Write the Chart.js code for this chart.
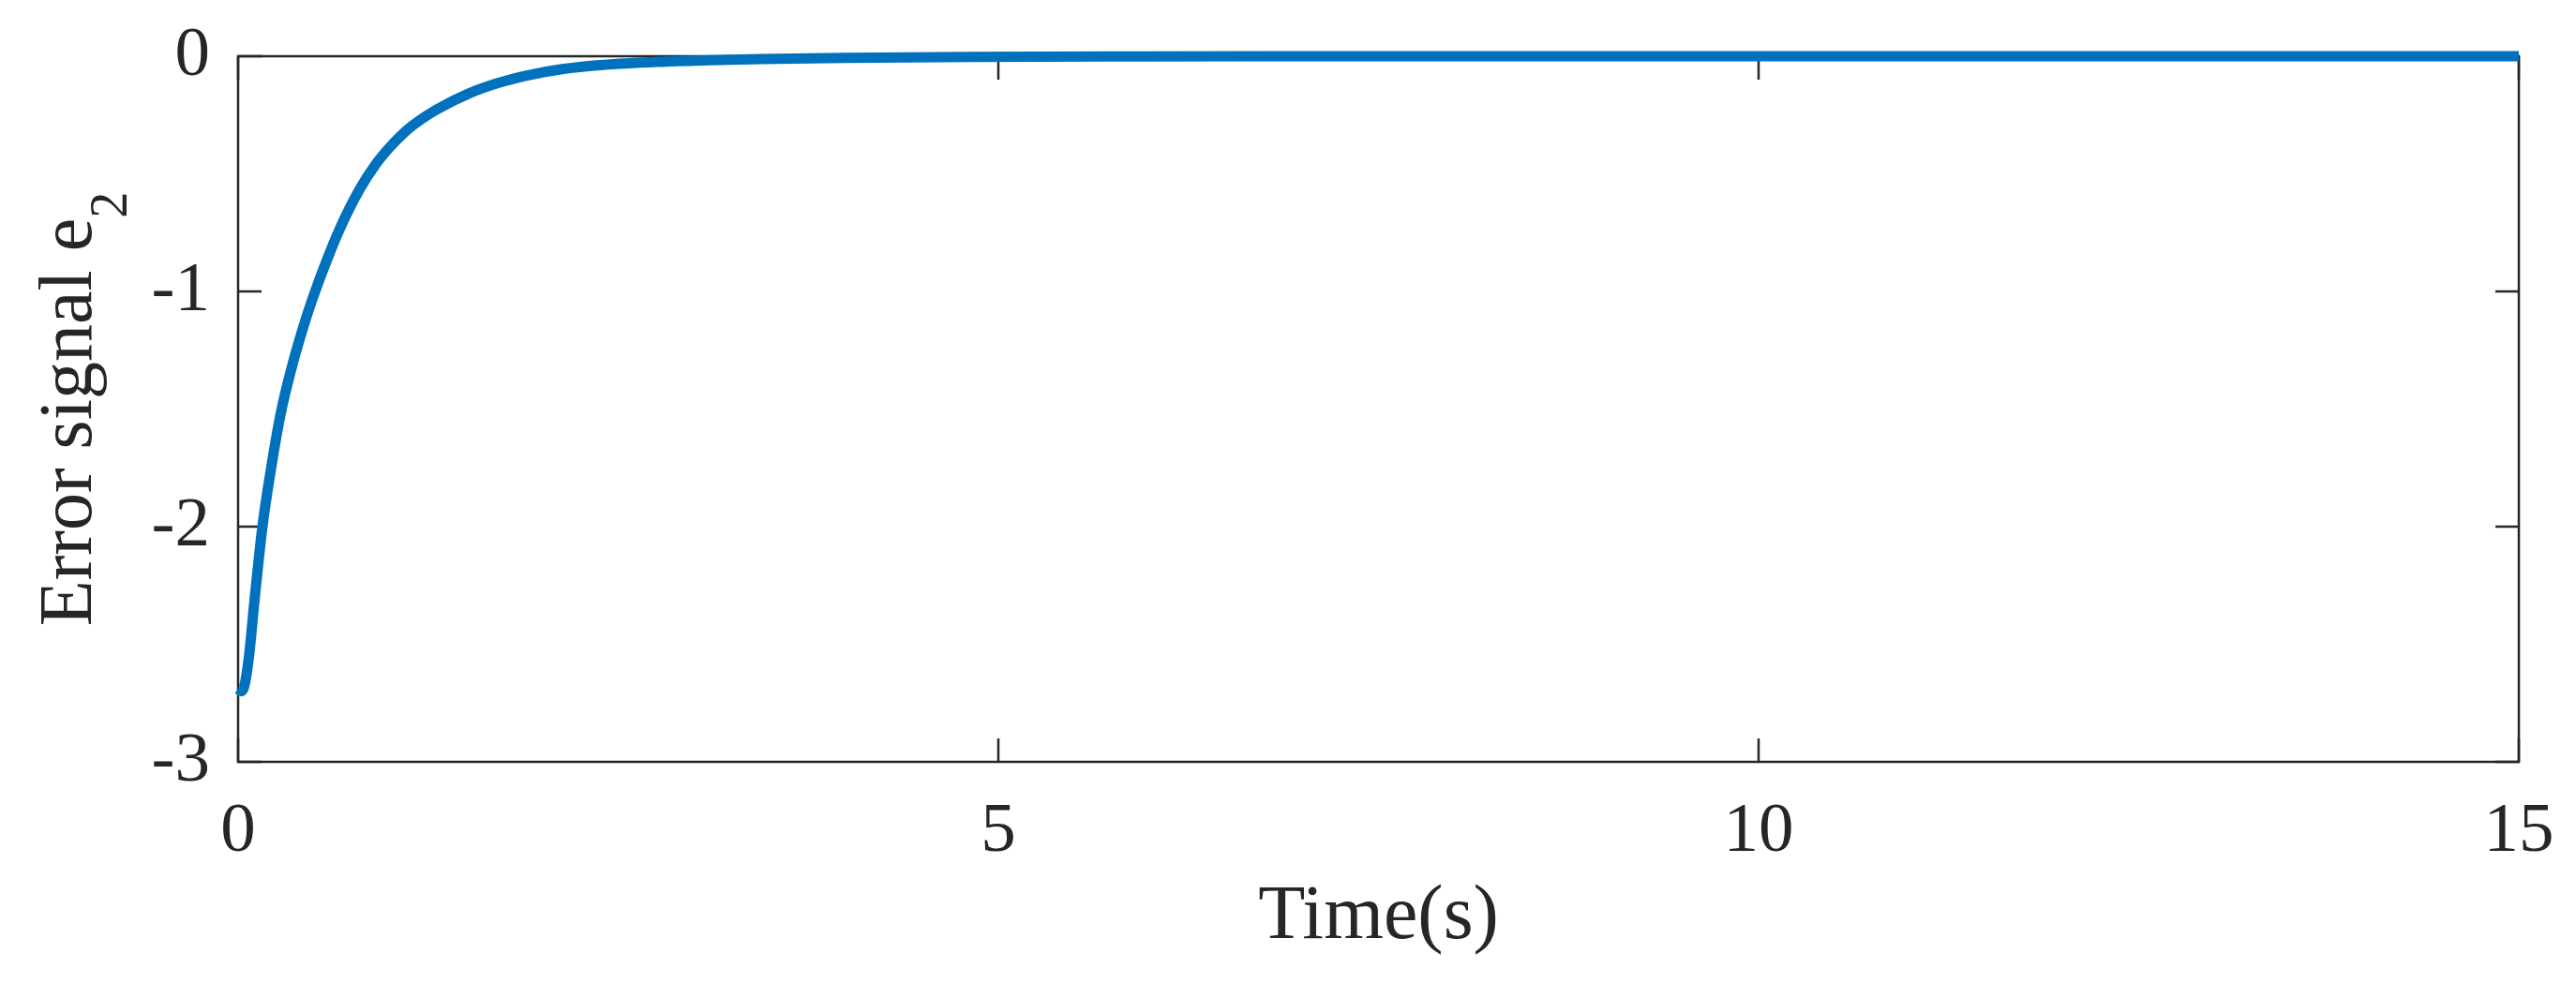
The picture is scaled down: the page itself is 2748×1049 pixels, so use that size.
<!DOCTYPE html>
<html>
<head>
<meta charset="utf-8">
<script src="https://cdn.jsdelivr.net/npm/chart.js@4.4.1/dist/chart.umd.min.js"></script>
<style>
  html, body { margin: 0; padding: 0; background: #fff; }
  #wrap { width: 2748px; height: 1049px; }
</style>
</head>
<body>
<div id="wrap"><canvas id="chart" width="2748" height="1049"></canvas></div>
<script>
// --- data ---
const timeValues = [0, 0.02, 0.04, 0.07, 0.11, 0.16, 0.22, 0.28, 0.35, 0.42, 0.49, 0.6, 0.7, 0.8, 0.9, 1.0, 1.1, 1.2, 1.31, 1.52, 1.72, 1.9, 2.13, 2.4, 2.76, 3.1, 3.44, 4.0, 4.82, 5.83, 7, 9, 11, 13, 15];
const errorValues = [-2.69, -2.70, -2.68, -2.56, -2.30, -2.0, -1.74, -1.52, -1.33, -1.17, -1.03, -0.84, -0.69, -0.565, -0.464, -0.385, -0.32, -0.27, -0.225, -0.158, -0.112, -0.082, -0.055, -0.037, -0.024, -0.017, -0.012, -0.007, -0.003, -0.001, 0, 0, 0, 0, 0];
const xTicks = [0, 5, 10, 15];
const yTicks = [0, -1, -2, -3];

const AXIS = "#262626";
const FONT = "'Liberation Serif', 'Times New Roman', serif";

// box round the plot + inward ticks on all four sides (MATLAB style)
const boxPlugin = {
  id: "box",
  beforeDatasetsDraw(chart) {
    const { ctx, chartArea: a, scales: { x, y } } = chart;
    const len = 25;
    ctx.save();
    ctx.strokeStyle = AXIS;
    ctx.lineWidth = 2.5;
    ctx.strokeRect(a.left, a.top, a.right - a.left, a.bottom - a.top);
    ctx.beginPath();
    for (const t of xTicks) {
      const px = x.getPixelForValue(t);
      ctx.moveTo(px, a.bottom); ctx.lineTo(px, a.bottom - len);
      ctx.moveTo(px, a.top); ctx.lineTo(px, a.top + len);
    }
    for (const t of yTicks) {
      const py = y.getPixelForValue(t);
      ctx.moveTo(a.left, py); ctx.lineTo(a.left + len, py);
      ctx.moveTo(a.right, py); ctx.lineTo(a.right - len, py);
    }
    ctx.stroke();
    ctx.restore();
  },
};

// y title with a real subscript: "Error signal e" + "2"
const yTitlePlugin = {
  id: "yTitle",
  afterDraw(chart) {
    const { ctx, chartArea: a } = chart;
    const main = "Error signal e", sub = "2";
    ctx.save();
    ctx.fillStyle = AXIS;
    ctx.font = `80px ${FONT}`;
    const wMain = ctx.measureText(main).width;
    ctx.font = `56px ${FONT}`;
    const wSub = ctx.measureText(sub).width;
    const start = -(wMain + wSub) / 2;
    ctx.translate(97, (a.top + a.bottom) / 2);
    ctx.rotate(-Math.PI / 2);
    ctx.textBaseline = "alphabetic";
    ctx.textAlign = "left";
    ctx.font = `80px ${FONT}`;
    ctx.fillText(main, start, 0);
    ctx.font = `56px ${FONT}`;
    ctx.fillText(sub, start + wMain, 38);
    ctx.restore();
  },
};

new Chart(document.getElementById("chart"), {
  type: "line",
  data: {
    datasets: [{
      data: timeValues.map((t, i) => ({ x: t, y: errorValues[i] })),
      borderColor: "#0072BD",
      borderWidth: 11,
      pointRadius: 0,
      cubicInterpolationMode: "monotone",
      borderCapStyle: "butt",
      borderJoinStyle: "round",
      clip: false,
    }],
  },
  options: {
    responsive: false,
    animation: false,
    events: [],
    layout: { padding: { top: 60, right: 61, left: 0, bottom: 0 } },
    plugins: { legend: { display: false }, tooltip: { enabled: false } },
    scales: {
      x: {
        type: "linear",
        min: 0,
        max: 15,
        afterFit: (s) => { s.height = 236; s.paddingLeft = 0; s.paddingRight = 0; },
        afterBuildTicks: (s) => { s.ticks = xTicks.map((v) => ({ value: v })); },
        grid: { display: false, drawTicks: false },
        border: { display: false },
        ticks: { color: AXIS, padding: 30, maxRotation: 0, font: { family: FONT, size: 75 } },
        title: {
          display: true,
          text: "Time(s)",
          color: AXIS,
          padding: { top: 0, bottom: 20 },
          font: { family: FONT, size: 82 },
        },
      },
      y: {
        type: "linear",
        min: -3,
        max: 0,
        afterFit: (s) => { s.width = 254; s.paddingTop = 0; s.paddingBottom = 0; },
        afterBuildTicks: (s) => { s.ticks = yTicks.map((v) => ({ value: v })); },
        grid: { display: false, drawTicks: false },
        border: { display: false },
        ticks: { color: AXIS, padding: 30, font: { family: FONT, size: 75 } },
      },
    },
  },
  plugins: [boxPlugin, yTitlePlugin],
});
</script>
</body>
</html>
